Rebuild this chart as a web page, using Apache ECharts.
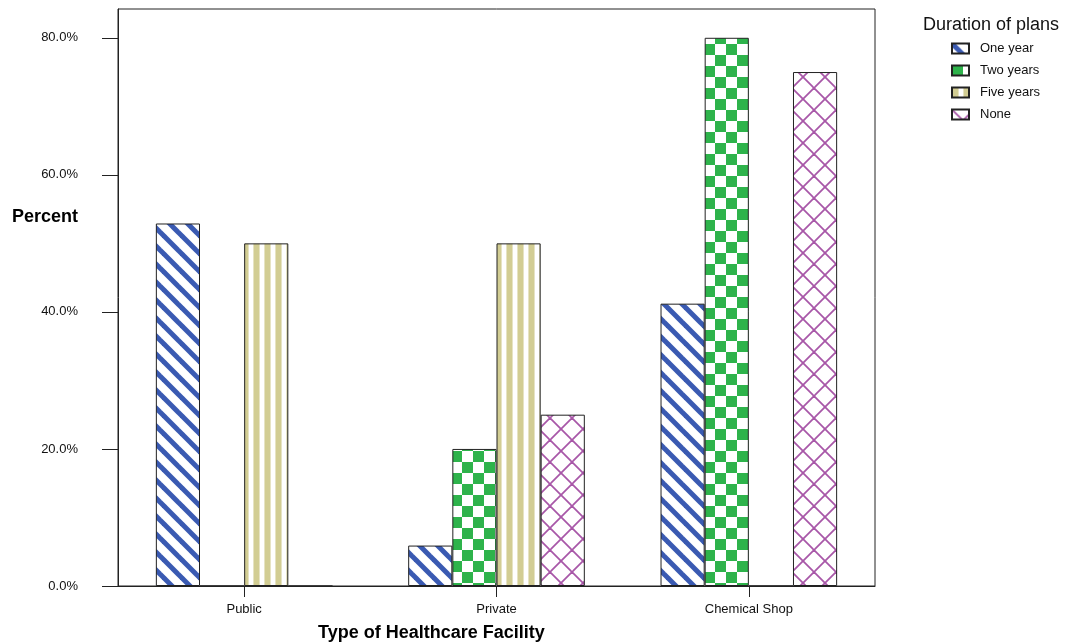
<!DOCTYPE html>
<html>
<head>
<meta charset="utf-8">
<script src="https://cdn.jsdelivr.net/npm/echarts@6/dist/echarts.min.js"></script>
<style>
html,body{margin:0;padding:0;background:#fff;}
#chart{width:1065px;height:642px;}
</style>
</head>
<body>
<div id="chart"></div>
<script>
const categories = ['Public', 'Private', 'Chemical Shop'];
const seriesNames = ['One year', 'Two years', 'Five years', 'None'];
const oneYear = [52.9, 5.9, 41.2];
const twoYears = [0, 20.0, 80.0];
const fiveYears = [50.0, 50.0, 0];
const noneVals = [0, 25.0, 75.0];
const yTicks = [0, 20, 40, 60, 80];

const FONT = 'Arial, "Liberation Sans", sans-serif';

function makeCanvas(w, h) {
  const c = document.createElement('canvas');
  c.width = w; c.height = h;
  return c;
}
function diagPattern() {
  const s = 18, c = makeCanvas(s, s), g = c.getContext('2d');
  g.fillStyle = '#fff'; g.fillRect(0, 0, s, s);
  g.strokeStyle = '#3a5ab2'; g.lineWidth = 5;
  for (let k = -1; k <= 1; k++) {
    g.beginPath(); g.moveTo(k * s - 2, -2); g.lineTo(k * s + s + 2, s + 2); g.stroke();
  }
  return c;
}
function checkPattern() {
  const s = 22, h = 11, c = makeCanvas(s, s), g = c.getContext('2d');
  g.fillStyle = '#fff'; g.fillRect(0, 0, s, s);
  g.fillStyle = '#2eb34b';
  g.fillRect(0, 0, h, h); g.fillRect(h, h, h, h);
  return c;
}
function vstripePattern() {
  const w = 11, c = makeCanvas(w, 2), g = c.getContext('2d');
  g.fillStyle = '#fff'; g.fillRect(0, 0, w, 2);
  g.fillStyle = '#e6e3c3'; g.fillRect(0, 0, 1, 2); g.fillRect(6, 0, 1, 2);
  g.fillStyle = '#d2cd93'; g.fillRect(1, 0, 5, 2);
  return c;
}
function crossPattern() {
  const s = 22, c = makeCanvas(s, s), g = c.getContext('2d');
  g.fillStyle = '#fff'; g.fillRect(0, 0, s, s);
  g.strokeStyle = '#a857a8'; g.lineWidth = 1.8;
  g.beginPath(); g.moveTo(-1, -1); g.lineTo(s + 1, s + 1); g.stroke();
  g.beginPath(); g.moveTo(s + 1, -1); g.lineTo(-1, s + 1); g.stroke();
  return c;
}

const patterns = [diagPattern(), checkPattern(), vstripePattern(), crossPattern()];
const dataSets = [oneYear, twoYears, fiveYears, noneVals];

const chart = echarts.init(document.getElementById('chart'), null, {renderer: 'canvas'});

const series = seriesNames.map((name, i) => ({
  name: name,
  type: 'bar',
  data: dataSets[i],
  barGap: '0%',
  barCategoryGap: '30%',
  itemStyle: {
    color: {image: patterns[i], repeat: 'repeat'},
    borderColor: '#222',
    borderWidth: 1
  },
  emphasis: {disabled: true}
}));

chart.setOption({
  animation: false,
  backgroundColor: '#fff',
  grid: {
    left: 118, right: 190, top: 9, bottom: 56,
    show: true, borderColor: '#222', borderWidth: 1, backgroundColor: 'transparent'
  },
  legend: {
    orient: 'vertical',
    left: 946, top: 37,
    itemWidth: 17, itemHeight: 10, itemGap: 9,
    icon: 'rect',
    data: seriesNames,
    textStyle: {fontFamily: FONT, fontSize: 13, color: '#111', padding: [0, 0, 0, 6]},
    selectedMode: false
  },
  xAxis: {
    type: 'category',
    data: categories,
    axisLine: {lineStyle: {color: '#222', width: 1}},
    axisTick: {show: true, alignWithLabel: true, length: 11, lineStyle: {color: '#222'}},
    axisLabel: {fontFamily: FONT, fontSize: 13, color: '#111', margin: 17},
    splitLine: {show: false}
  },
  yAxis: {
    type: 'value',
    min: 0, max: 84.2, interval: 20,
    axisLine: {show: true, lineStyle: {color: '#222', width: 1}},
    axisTick: {show: true, length: 16, lineStyle: {color: '#222'}, customValues: yTicks},
    axisLabel: {
      fontFamily: FONT, fontSize: 13, color: '#111', margin: 40,
      customValues: yTicks,
      formatter: v => v.toFixed(1) + '%'
    },
    splitLine: {show: false}
  },
  graphic: [
    {type: 'text', left: 923, top: 16, style: {text: 'Duration of plans', font: '18px ' + FONT, fill: '#111'}},
    {type: 'text', left: 12, top: 208, style: {text: 'Percent', font: 'bold 18px ' + FONT, fill: '#000'}},
    {type: 'text', left: 318, top: 624, style: {text: 'Type of Healthcare Facility', font: 'bold 18px ' + FONT, fill: '#000'}}
  ],
  series: series
});
</script>
</body>
</html>
